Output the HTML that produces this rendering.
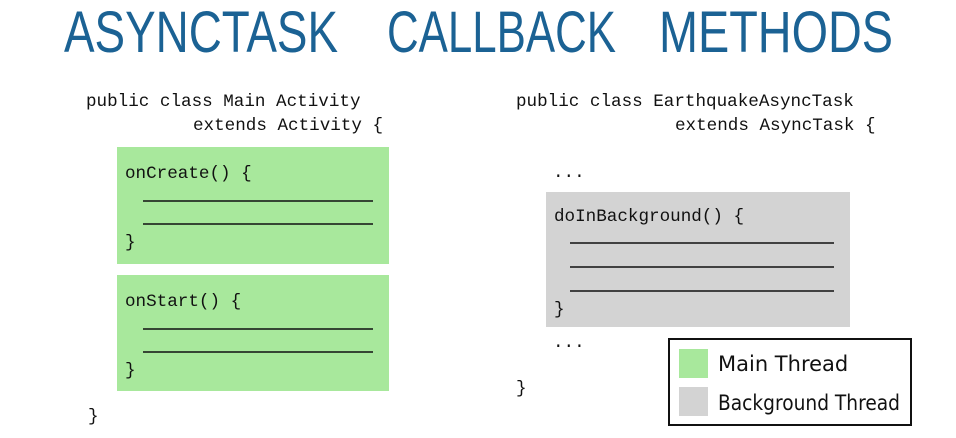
<!DOCTYPE html>
<html><head><meta charset="utf-8"><style>
html,body{margin:0;padding:0;background:#fff;width:956px;height:438px;overflow:hidden}
svg{display:block}
.m{font-family:"Liberation Mono",monospace;font-size:17.6px;fill:#111}
.h{font-family:"Comic Sans MS","DejaVu Sans",sans-serif;font-size:21px;fill:#111}
.t{font-family:'Liberation Sans Narrow','Liberation Sans',sans-serif;font-size:58px;fill:#1b6294}
</style></head><body>
<svg width="956" height="438" viewBox="0 0 956 438" xmlns="http://www.w3.org/2000/svg">
<text class="t" x="64" y="52" textLength="274" lengthAdjust="spacingAndGlyphs">ASYNCTASK</text>
<text class="t" x="387" y="52" textLength="229" lengthAdjust="spacingAndGlyphs">CALLBACK</text>
<text class="t" x="659" y="52" textLength="234" lengthAdjust="spacingAndGlyphs">METHODS</text>

<text class="m" x="86" y="106">public class Main Activity</text>
<text class="m" x="193" y="130">extends Activity {</text>
<rect x="117" y="147" width="272" height="117" fill="#a8e89c"/>
<text class="m" x="125" y="178">onCreate() {</text>
<line x1="143" y1="201" x2="373" y2="201" stroke="#111" stroke-width="1.6"/>
<line x1="143" y1="224" x2="373" y2="224" stroke="#111" stroke-width="1.6"/>
<text class="m" x="125" y="247">}</text>
<rect x="117" y="275" width="272" height="116" fill="#a8e89c"/>
<text class="m" x="125" y="306">onStart() {</text>
<line x1="143" y1="329" x2="373" y2="329" stroke="#111" stroke-width="1.6"/>
<line x1="143" y1="352" x2="373" y2="352" stroke="#111" stroke-width="1.6"/>
<text class="m" x="125" y="375">}</text>
<text class="m" x="88" y="421">}</text>

<text class="m" x="516" y="106">public class EarthquakeAsyncTask</text>
<text class="m" x="675" y="130">extends AsyncTask {</text>
<text class="m" x="553" y="177">...</text>
<rect x="546" y="192" width="304" height="135" fill="#d3d3d3"/>
<text class="m" x="554" y="221">doInBackground() {</text>
<line x1="570" y1="243" x2="834" y2="243" stroke="#111" stroke-width="1.6"/>
<line x1="570" y1="267" x2="834" y2="267" stroke="#111" stroke-width="1.6"/>
<line x1="570" y1="291" x2="834" y2="291" stroke="#111" stroke-width="1.6"/>
<text class="m" x="554" y="314">}</text>
<text class="m" x="553" y="347">...</text>
<text class="m" x="516" y="393">}</text>

<rect x="669" y="339" width="242" height="86" fill="#fff" stroke="#111" stroke-width="2"/>
<rect x="679" y="349" width="29" height="29" fill="#a8e89c"/>
<rect x="679" y="387" width="29" height="29" fill="#d3d3d3"/>
<text class="h" x="718" y="371">Main Thread</text>
<text class="h" x="718" y="410" textLength="182" lengthAdjust="spacingAndGlyphs">Background Thread</text>
</svg>
</body></html>
